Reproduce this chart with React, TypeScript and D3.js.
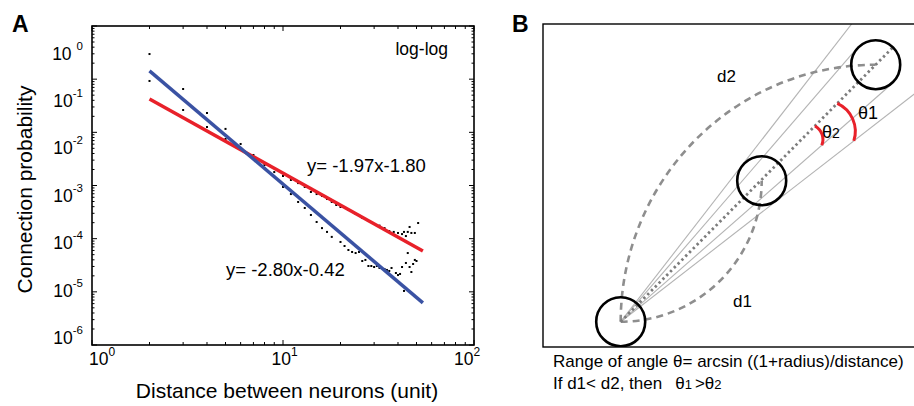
import React from 'react';
import * as d3 from 'd3';

const FONT = '"Liberation Sans", Arial, Helvetica, sans-serif';

// panel A: measured connection probability, two series of dots
const distUpper = [2, 3, 4, 5, 6, 7, 8, 9, 10, 11, 12, 13, 14, 15, 16, 17, 18, 19, 20, 22, 24, 26, 28, 30, 32, 34, 36, 38, 40, 42, 43, 44, 45, 46, 47, 49, 51];
const probUpper = [2.97e-1, 6.53e-2, 2.31e-2, 1.16e-2, 6.04e-3, 3.75e-3, 2.43e-3, 1.79e-3, 1.51e-3, 1.27e-3, 1.11e-3, 9.4e-4, 7.55e-4, 6.9e-4, 6.35e-4, 5.57e-4, 4.9e-4, 4.3e-4, 3.94e-4, 3.46e-4, 2.91e-4, 2.45e-4, 2.15e-4, 1.89e-4, 1.76e-4, 1.58e-4, 1.39e-4, 1.34e-4, 1.28e-4, 1.22e-4, 1.34e-4, 1.12e-4, 1.34e-4, 1.66e-4, 1.28e-4, 1.28e-4, 1.97e-4];
const distLower = [2, 3, 4, 5, 6, 7, 8, 9, 10, 11, 12, 13, 14, 15, 16, 17, 18, 20, 21, 22, 23, 24, 25, 26, 27, 28, 29, 30, 31, 32, 34, 35, 36, 37, 39, 40, 41, 42, 43, 44, 45, 46, 47, 48, 49, 50];
const probLower = [9.25e-2, 2.63e-2, 1.26e-2, 7.5e-3, 5.07e-3, 3.29e-3, 2.14e-3, 1.45e-3, 9.4e-4, 6.9e-4, 4.9e-4, 3.78e-4, 2.79e-4, 2.06e-4, 1.58e-4, 1.34e-4, 1.08e-4, 8.67e-5, 7.28e-5, 6.12e-5, 5.62e-5, 5.37e-5, 5.62e-5, 3.8e-5, 3.98e-5, 3.06e-5, 3.06e-5, 2.93e-5, 3.06e-5, 2.81e-5, 2.69e-5, 2.58e-5, 2.47e-5, 2.81e-5, 2.26e-5, 2.07e-5, 2.17e-5, 2.93e-5, 1.04e-5, 3.49e-5, 5.37e-5, 2.93e-5, 2.36e-5, 3.34e-5, 3.98e-5, 3.8e-5];

// fitted lines, end points
const fitDist = [2, 54];
const redFitProb = [4.24e-2, 5.86e-5];
const blueFitProb = [1.43e-1, 6.2e-6];
const redFitLabel = 'y= -1.97x-1.80';
const blueFitLabel = 'y= -2.80x-0.42';

const xTickExps = [0, 1, 2];
const yTickExps = [0, -1, -2, -3, -4, -5, -6];

// panel B: neuron positions in units of the neuron radius
const neuronX = [0, 5.64, 10.2];
const neuronY = [0, 5.64, 10.28];
const neuronRadius = 1;

const RED = '#e8212a';
const BLUE = '#3a52a3';

const PanelA = () => {
  const left = 92;
  const right = 474;
  const top = 26;
  const bottom = 345;

  const x = d3.scaleLog().domain([1, 100]).range([left, right]);
  const y = d3.scaleLog().domain([1e-6, 1]).range([bottom, top]);
  // tick labels in the figure sit a little off their ticks
  const yLabel = d3.scaleLinear().domain([0, -6]).range([53.5, 338]);
  const xLabel = d3.scaleLinear().domain([0, 2]).range([102, 467]);

  const isMajor = (v: number) => Math.abs(Math.log10(v) - Math.round(Math.log10(v))) < 1e-6;

  const line = d3.line<[number, number]>()
    .x((d) => x(d[0]))
    .y((d) => y(d[1]));

  const redPts = fitDist.map((d, i) => [d, redFitProb[i]] as [number, number]);
  const bluePts = fitDist.map((d, i) => [d, blueFitProb[i]] as [number, number]);

  return (
    <g fontFamily={FONT}>
      <text x={12} y={32} fontSize={23} fontWeight="bold">A</text>
      {x.ticks().map((v) => {
        const len = isMajor(v) ? 5 : 3;
        return (
          <g key={`xt${v}`} stroke="#000" strokeWidth={1}>
            <line x1={x(v)} x2={x(v)} y1={bottom} y2={bottom - len} />
            <line x1={x(v)} x2={x(v)} y1={top} y2={top + len} />
          </g>
        );
      })}
      {y.ticks().map((v) => {
        const len = isMajor(v) ? 5 : 2.5;
        return (
          <g key={`yt${v}`} stroke="#000" strokeWidth={1}>
            <line x1={left} x2={left + len} y1={y(v)} y2={y(v)} />
            <line x1={right} x2={right - len} y1={y(v)} y2={y(v)} />
          </g>
        );
      })}
      <rect x={left} y={top} width={right - left} height={bottom - top} fill="none" stroke="#000" strokeWidth={1.6} />

      {distUpper.map((d, i) => (
        <rect key={`u${d}`} x={x(d) - 1} y={y(probUpper[i]) - 1} width={2} height={2} fill="#000" />
      ))}
      {distLower.map((d, i) => (
        <rect key={`l${d}`} x={x(d) - 1} y={y(probLower[i]) - 1} width={2} height={2} fill="#000" />
      ))}

      <path d={line(redPts) as string} stroke={RED} strokeWidth={3.5} fill="none" />
      <path d={line(bluePts) as string} stroke={BLUE} strokeWidth={3.5} fill="none" />

      <text x={448} y={55} fontSize={17.5} textAnchor="end">log-log</text>
      <text x={307} y={172} fontSize={18.5}>{redFitLabel}</text>
      <text x={226} y={276} fontSize={18.5}>{blueFitLabel}</text>

      {yTickExps.map((e) => (
        <text key={`yl${e}`} x={83} y={yLabel(e) + 6} fontSize={17.5} textAnchor="end">
          10
          <tspan dx={e === 0 ? 5 : 0} dy={-10} fontSize={11.5}>{e}</tspan>
        </text>
      ))}
      {xTickExps.map((e) => (
        <text key={`xl${e}`} x={xLabel(e)} y={365} fontSize={17.5} textAnchor="middle">
          10
          <tspan dy={-9} fontSize={12}>{e}</tspan>
        </text>
      ))}

      <text x={(left + right) / 2 + 4} y={398} fontSize={21} textAnchor="middle">
        Distance between neurons (unit)
      </text>
      <text
        transform={`translate(32, ${(top + bottom) / 2 + 4}) rotate(-90)`}
        fontSize={21}
        textAnchor="middle"
      >
        Connection probability
      </text>
    </g>
  );
};

const PanelB = () => {
  const left = 543;
  const top = 24;
  const bottom = 347;
  const right = 930;

  // one unit = one neuron radius
  const bx = d3.scaleLinear().domain([0, 1]).range([620.7, 645.7]);
  const by = d3.scaleLinear().domain([0, 1]).range([321.7, 296.7]);
  const unit = bx(1) - bx(0);

  const ox = neuronX[0];
  const oy = neuronY[0];
  const dist = (i: number) => Math.hypot(neuronX[i] - ox, neuronY[i] - oy);
  const phi = (i: number) => Math.atan2(neuronY[i] - oy, neuronX[i] - ox);
  const half = (i: number) => Math.asin(neuronRadius / dist(i));

  const ray = (a: number, len: number) => ({
    x1: bx(ox),
    y1: by(oy),
    x2: bx(ox + len * Math.cos(a)),
    y2: by(oy + len * Math.sin(a)),
  });

  const tangentLen = (i: number) => Math.sqrt(dist(i) ** 2 - neuronRadius ** 2);
  const rays = [
    ray(phi(1) + half(1), 30),
    ray(phi(2) + half(2), tangentLen(2)),
    ray(phi(2) - half(2), tangentLen(2)),
    ray(phi(1) - half(1), 30),
  ];

  // dotted centre line, through the far neuron to its rim
  const center = ray(phi(2), dist(2) + neuronRadius);

  // distance arcs
  const d1 = `M${bx(ox)},${by(oy)} A${(neuronX[1] - ox) * unit},${(neuronY[1] - oy) * unit} 0 0 0 ${bx(neuronX[1])},${by(neuronY[1])}`;
  const d2 = `M${bx(ox)},${by(oy)} A${(neuronX[2] - ox) * unit},${(neuronY[2] - oy) * unit} 0 0 1 ${bx(neuronX[2])},${by(neuronY[2])}`;

  // hand-drawn looking angle marks: a bowed arc between two rays
  const angleArc = (r0: number, r1: number, a0: number, a1: number, bow: number) => {
    const p0 = { x: bx(ox + r0 * Math.cos(a0)), y: by(oy + r0 * Math.sin(a0)) };
    const p1 = { x: bx(ox + r1 * Math.cos(a1)), y: by(oy + r1 * Math.sin(a1)) };
    const chord = Math.hypot(p1.x - p0.x, p1.y - p0.y);
    const rr = chord * bow;
    return `M${p0.x},${p0.y} A${rr},${rr} 0 0 1 ${p1.x},${p1.y}`;
  };
  const theta1 = angleArc(12.3, 11.8, phi(2), phi(1) - half(1), 0.75);
  const theta2 = angleArc(11.03, 10.7, phi(2), phi(2) - half(2), 0.75);

  return (
    <g fontFamily={FONT}>
      <defs>
        <clipPath id="frameB">
          <rect x={left} y={top} width={right - left} height={bottom - top} />
        </clipPath>
      </defs>
      <text x={512} y={32} fontSize={23} fontWeight="bold">B</text>
      <g clipPath="url(#frameB)">
        {rays.map((r, i) => (
          // eslint-disable-next-line react/no-array-index-key
          <line key={`ray${i}`} {...r} stroke="#b4b4b4" strokeWidth={1.1} />
        ))}
        <path d={d1} fill="none" stroke="#8e8e8e" strokeWidth={2.6} strokeDasharray="7 5" />
        <path d={d2} fill="none" stroke="#8e8e8e" strokeWidth={2.6} strokeDasharray="7 5" />
        <line {...center} stroke="#7c7c7c" strokeWidth={2.8} strokeDasharray="2.4 3" />
        {neuronX.map((nx, i) => (
          <circle key={`n${nx}`} cx={bx(nx)} cy={by(neuronY[i])} r={neuronRadius * unit - 0.5} fill="none" stroke="#000" strokeWidth={2.6} />
        ))}
        <path d={theta1} fill="none" stroke={RED} strokeWidth={3} />
        <path d={theta2} fill="none" stroke={RED} strokeWidth={3} />
      </g>
      <rect x={left} y={top} width={right - left} height={bottom - top} fill="none" stroke="#000" strokeWidth={1.4} />

      <text x={717} y={82} fontSize={17}>d2</text>
      <text x={733} y={307} fontSize={17}>d1</text>
      <text x={858} y={119} fontSize={18}>θ1</text>
      <text x={822} y={138} fontSize={18}>
        θ
        <tspan fontSize={14}>2</tspan>
      </text>

      <text x={553} y={367} fontSize={17}>Range of angle θ= arcsin ((1+radius)/distance)</text>
      <text x={553} y={389} fontSize={17}>
        If d1&lt; d2, then
        <tspan dx={13}>θ</tspan>
        <tspan fontSize={13}>1</tspan>
        <tspan dx={3}>&gt;θ</tspan>
        <tspan fontSize={13}>2</tspan>
      </text>
    </g>
  );
};

const App = () => (
  <svg
    width={914}
    height={406}
    style={{ position: 'absolute', left: 0, top: 0, background: '#fff' }}
  >
    <PanelA />
    <PanelB />
  </svg>
);

export default App;
